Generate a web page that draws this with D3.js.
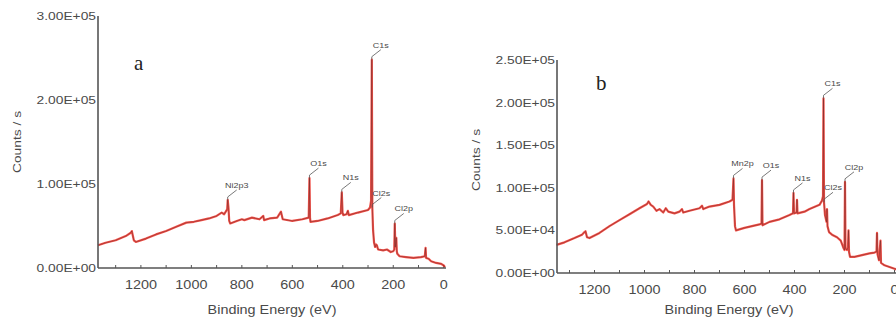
<!DOCTYPE html>
<html>
<head>
<meta charset="utf-8">
<script src="https://cdn.jsdelivr.net/npm/d3@7"></script>
<style>
  body { margin: 0; background: #fff; }
  text { font-family: Arial, "Liberation Sans", sans-serif; fill: #4a4a4a; }
</style>
</head>
<body>
<div id="chart"></div>
<script>
// ---- data ----
var xTicks = [1200, 1000, 800, 600, 400, 200, 0];
var yTicksA = [0, 1e5, 2e5, 3e5];
var yLabelsA = ["0.00E+00", "1.00E+05", "2.00E+05", "3.00E+05"];
var yTicksB = [0, 5e4, 1e5, 1.5e5, 2e5, 2.5e5];
var yLabelsB = ["0.00E+00", "5.00E+04", "1.00E+05", "1.50E+05", "2.00E+05", "2.50E+05"];

// spectrum a : [binding energy, counts]
var spectrumA = [
  [1370, 27000], [1340, 30000], [1300, 33000], [1260, 38000], [1240, 42000], [1236, 44000],
  [1228, 33000], [1220, 31000], [1180, 35000], [1140, 40000], [1100, 44000], [1060, 49000],
  [1020, 54000], [990, 55000], [960, 57000], [930, 59000], [900, 62000], [880, 66000],
  [870, 64000], [862, 68000], [858, 70000], [856, 81000], [853, 72000], [850, 56000],
  [846, 53000], [820, 56000], [800, 58000], [790, 57000], [760, 60000], [730, 58000],
  [715, 62000], [712, 57000], [690, 59000], [660, 60000], [645, 67000], [638, 58000],
  [600, 56000], [560, 58000], [535, 60000], [532, 107000], [530, 60000], [528, 55000],
  [500, 56000], [460, 59000], [420, 63000], [408, 65000], [404, 90000], [401, 66000],
  [398, 63000], [385, 64000], [380, 68000], [376, 63000], [340, 66000], [300, 69000],
  [292, 72000], [288, 80000], [285, 248000], [283, 72000], [280, 45000], [276, 30000],
  [272, 25000], [268, 28000], [265, 27000], [260, 22000], [240, 21000], [225, 22000],
  [210, 19000], [200, 20000], [196, 22000], [194, 53000], [192, 25000], [188, 36000],
  [186, 20000], [184, 17000], [175, 14000], [150, 13000], [120, 12000], [90, 13000],
  [75, 14000], [72, 24000], [70, 12000], [60, 11000], [50, 8000], [30, 6000],
  [10, 5000], [0, 3000], [-5, 1000]
];
var peaksA = [
  ["Ni2p3", 856, 81000], ["O1s", 532, 107000], ["N1s", 404, 90000],
  ["C1s", 285, 248000], ["Cl2s", 283, 72000], ["Cl2p", 194, 53000]
];

// spectrum b
var spectrumB = [
  [1352, 33000], [1320, 36000], [1280, 41000], [1250, 45000], [1240, 48000], [1236, 49000],
  [1230, 42000], [1220, 41000], [1180, 47000], [1140, 55000], [1100, 62000], [1060, 69000],
  [1020, 76000], [990, 81000], [984, 84000], [975, 80000], [965, 78000], [952, 73000],
  [940, 75000], [925, 71000], [915, 76000], [905, 72000], [880, 70000], [860, 72000],
  [850, 75000], [845, 71000], [820, 73000], [780, 76000], [770, 79000], [765, 75000],
  [740, 78000], [700, 80000], [660, 84000], [648, 86000], [644, 111000], [642, 80000],
  [638, 55000], [634, 50000], [600, 53000], [570, 55000], [540, 57000], [532, 58000],
  [530, 109000], [528, 56000], [500, 60000], [460, 63000], [420, 68000], [406, 70000],
  [404, 94000], [402, 70000], [392, 71000], [390, 86000], [388, 70000], [360, 72000],
  [340, 75000], [300, 80000], [290, 85000], [286, 90000], [284, 205000], [282, 83000],
  [278, 68000], [272, 60000], [270, 75000], [268, 55000], [262, 48000], [250, 45000],
  [230, 42000], [215, 38000], [205, 30000], [200, 27000], [198, 107000], [196, 29000],
  [190, 27000], [186, 30000], [184, 50000], [182, 25000], [178, 19000], [160, 19000],
  [130, 21000], [100, 23000], [80, 24000], [72, 25000], [70, 47000], [68, 22000],
  [62, 15000], [56, 38000], [54, 12000], [40, 9000], [20, 7000], [0, 5000], [-10, 4000]
];
var peaksB = [
  ["Mn2p", 644, 111000], ["O1s", 530, 109000], ["N1s", 404, 94000],
  ["C1s", 284, 205000], ["Cl2s", 282, 83000], ["Cl2p", 198, 107000]
];

var W = 896, H = 327;
var svg = d3.select("#chart").append("svg")
  .attr("width", W).attr("height", H);

// stretched text, the picture is wider than it is tall
function label(g, x, y, str, size, anchor, rotate) {
  var t = g.append("g")
    .attr("transform", "translate(" + x + "," + y + ")" + (rotate ? " rotate(-90)" : ""))
    .append("text")
    .attr("transform", "scale(1.2,1)")
    .attr("text-anchor", anchor || "middle")
    .style("font-size", size + "px")
    .text(str);
  return t;
}

function drawPanel(opt) {
  var g = svg.append("g");
  var x = d3.scaleLinear().domain(opt.xDomain).range(opt.xRange);
  var y = d3.scaleLinear().domain(opt.yDomain).range(opt.yRange);
  var x0 = opt.xRange[0], y0 = opt.yRange[0];

  // minor ticks on the x axis, pointing inward
  g.selectAll(".mt").data(d3.range(0, 1400, 100).filter(function(d) { return x(d) > x0 + 2 && x(d) < W; }))
    .enter().append("line")
      .attr("x1", function(d) { return x(d); }).attr("x2", function(d) { return x(d); })
      .attr("y1", y0).attr("y2", y0 - 3)
      .attr("stroke", "#555").attr("stroke-width", 1);

  // spectrum: red band with a dark trace over it
  var line = d3.line().x(function(d) { return x(d[0]); }).y(function(d) { return y(d[1]); });
  g.append("path").datum(opt.data)
    .attr("d", line).attr("fill", "none")
    .attr("stroke", "#f2261c").attr("stroke-width", 2.2).attr("stroke-opacity", 0.8)
    .attr("stroke-linejoin", "round");
  g.append("path").datum(opt.data)
    .attr("d", line).attr("fill", "none")
    .attr("stroke", "#3a1c1c").attr("stroke-width", 0.6).attr("stroke-opacity", 0.6);

  // peak labels with leader lines
  opt.peaks.forEach(function(p) {
    var px = x(p[1]), py = y(p[2]);
    g.append("path")
      .attr("d", "M" + px + "," + py + "V" + (py - 3) + "L" + (px + 9) + "," + (py - 10))
      .attr("fill", "none").attr("stroke", "#555").attr("stroke-width", 0.8);
    label(g, px + 9, py - 12, p[0], 7.5, "middle");
  });

  // axes
  g.append("line").attr("x1", x0).attr("x2", x0).attr("y1", y0).attr("y2", opt.yRange[1])
    .attr("stroke", "#555").attr("stroke-width", 1.6);
  g.append("line").attr("x1", x0).attr("x2", opt.xEnd).attr("y1", y0).attr("y2", y0)
    .attr("stroke", "#555").attr("stroke-width", 1.6);

  opt.yTicks.forEach(function(t, i) {
    label(g, x0 - 2, y(t) + 4, opt.yLabels[i], 11.5, "end");
  });
  xTicks.forEach(function(t) {
    label(g, x(t), y0 + 21, String(t), 12, "middle");
  });

  label(g, opt.xTitle[0], opt.xTitle[1], "Binding Energy (eV)", 12, "middle");
  label(g, opt.yTitle[0], opt.yTitle[1], "Counts / s", 11.5, "middle", true);

  g.append("text")
    .attr("x", opt.tag[0]).attr("y", opt.tag[1])
    .style("font-family", "'Liberation Serif', 'DejaVu Serif', serif")
    .style("font-size", "21px").style("fill", "#222")
    .text(opt.tag[2]);
}

drawPanel({
  data: spectrumA, peaks: peaksA,
  xDomain: [1370, -5], xRange: [98, 445], xEnd: 446,
  yDomain: [0, 3e5], yRange: [268, 16],
  yTicks: yTicksA, yLabels: yLabelsA,
  xTitle: [272, 314], yTitle: [21, 142], tag: [134, 70, "a"]
});

drawPanel({
  data: spectrumB, peaks: peaksB,
  xDomain: [1350, -10], xRange: [557, 897], xEnd: 896,
  yDomain: [0, 2.5e5], yRange: [273, 60],
  yTicks: yTicksB, yLabels: yLabelsB,
  xTitle: [729, 314], yTitle: [480, 160], tag: [596, 90, "b"]
});
</script>
</body>
</html>
